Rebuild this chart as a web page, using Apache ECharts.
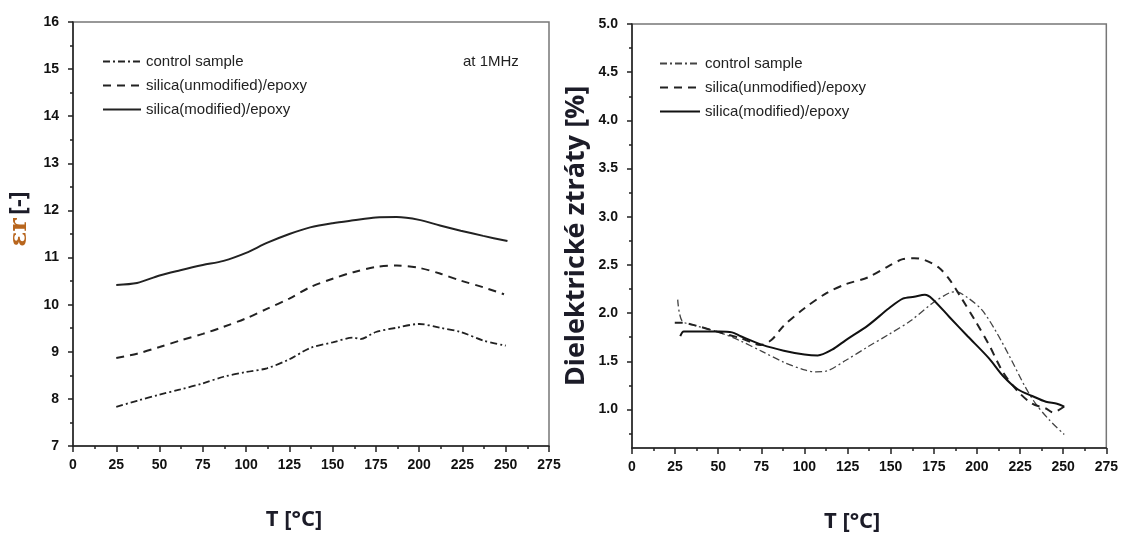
<!DOCTYPE html>
<html>
<head>
<meta charset="utf-8">
<script src="https://cdn.jsdelivr.net/npm/echarts@6/dist/echarts.min.js"></script>
<style>
html,body{margin:0;padding:0;background:#fff;}
#c{width:1121px;height:540px;}
</style>
</head>
<body>
<div id="c"></div>
<script>
// ---------- Data ----------
const seriesNames = ['control sample', 'silica(unmodified)/epoxy', 'silica(modified)/epoxy'];
const xTickLabels = [0, 25, 50, 75, 100, 125, 150, 175, 200, 225, 250, 275];
const rightYTickLabels = [1.0, 1.5, 2.0, 2.5, 3.0, 3.5, 4.0, 4.5, 5.0];
const rightYMinorTicks = [0.75, 1.25, 1.75, 2.25, 2.75, 3.25, 3.75, 4.25, 4.75];

// Left panel: relative permittivity at 1 MHz
const leftControlT = [25, 37, 50, 62, 75, 87, 100, 112, 125, 137, 150, 162, 166, 175, 187, 200, 212, 224, 237, 250];
const leftControlV = [7.83, 7.96, 8.09, 8.20, 8.33, 8.47, 8.57, 8.65, 8.84, 9.08, 9.20, 9.30, 9.27, 9.42, 9.51, 9.59, 9.51, 9.42, 9.24, 9.13];
const leftUnmodT = [25, 37, 50, 62, 75, 87, 100, 112, 125, 137, 150, 162, 175, 187, 200, 212, 224, 237, 249];
const leftUnmodV = [8.87, 8.96, 9.10, 9.24, 9.38, 9.53, 9.71, 9.91, 10.13, 10.37, 10.55, 10.69, 10.80, 10.83, 10.78, 10.66, 10.51, 10.37, 10.22];
const leftModT = [25, 37, 50, 62, 75, 87, 100, 112, 125, 137, 150, 162, 175, 187, 200, 212, 224, 237, 251];
const leftModV = [10.42, 10.46, 10.62, 10.73, 10.84, 10.93, 11.10, 11.31, 11.50, 11.64, 11.73, 11.79, 11.85, 11.86, 11.80, 11.68, 11.57, 11.46, 11.35];

// Right panel: dielectric losses [%]
const rightControlT = [26.5, 29, 37, 50.7, 63, 75.6, 88, 100, 106.6, 113, 124, 136.7, 149, 161.5, 174, 184, 188, 194.6, 203, 211, 219.5, 227.8, 234, 242, 250.6];
const rightControlV = [2.14, 1.92, 1.87, 1.80, 1.71, 1.60, 1.49, 1.41, 1.39, 1.40, 1.51, 1.65, 1.78, 1.92, 2.10, 2.21, 2.22, 2.16, 2.03, 1.81, 1.53, 1.24, 1.06, 0.89, 0.74];
const rightUnmodT = [24.8, 29, 37, 50.7, 63, 74.5, 80.8, 88, 100, 113, 124, 136.7, 149, 157, 163.6, 169.8, 178, 184, 190.5, 199, 207, 215, 223.6, 232, 240, 244, 250.6];
const rightUnmodV = [1.90, 1.90, 1.87, 1.80, 1.74, 1.67, 1.72, 1.87, 2.05, 2.21, 2.30, 2.37, 2.49, 2.56, 2.57, 2.55, 2.47, 2.35, 2.17, 1.92, 1.67, 1.39, 1.19, 1.06, 1.01, 0.97, 1.03];
const rightModT = [28, 30, 37, 50.7, 58, 63, 75.6, 88, 100, 107.7, 116, 124, 136.7, 149, 157, 163.6, 169.8, 174, 184, 194.6, 207, 215, 223.6, 232, 240, 246.4, 250.6];
const rightModV = [1.76, 1.81, 1.81, 1.81, 1.80, 1.76, 1.67, 1.61, 1.57, 1.56, 1.62, 1.72, 1.87, 2.05, 2.15, 2.17, 2.19, 2.15, 1.96, 1.76, 1.53, 1.35, 1.21, 1.14, 1.08, 1.06, 1.03];

// ---------- Chart ----------
const pairs = (xs, ys) => xs.map((x, i) => [x, ys[i]]);
const tickFont = "'Liberation Sans Narrow', 'Liberation Sans', Arial, sans-serif";
const titleFont = "'Open Sans', 'Noto Sans', sans-serif";
const axisCol = '#222';

function xAxisFor(gridIndex) {
  return {
    type: 'value', gridIndex: gridIndex, min: 0, max: 275, interval: 25,
    name: 'T [°C]', nameLocation: 'middle', nameGap: 63,
    nameTextStyle: {
      fontFamily: titleFont, fontWeight: 'bold', fontSize: 22, color: '#1c1c28',
      textShadowColor: '#e8902a', textShadowOffsetX: -1.2, textShadowBlur: 0,
      padding: [0, 34, 0, 0]
    },
    axisLine: { show: true, lineStyle: { color: axisCol, width: 1.5 } },
    axisTick: { show: true, inside: false, length: 6, lineStyle: { color: axisCol, width: 1.5 } },
    minorTick: { show: true, splitNumber: 2, length: 3, lineStyle: { color: axisCol, width: 1.5 } },
    splitLine: { show: false },
    axisLabel: {
      margin: 12, fontFamily: tickFont, fontWeight: 'bold', fontSize: 14, color: '#111',
      customValues: xTickLabels
    }
  };
}

const legendText = { fontFamily: "'Liberation Sans', Arial, sans-serif", fontSize: 15, color: '#222' };

const option = {
  backgroundColor: '#ffffff',
  animation: false,
  grid: [
    { left: 73, top: 22, width: 476, height: 424, show: true, borderColor: '#777', borderWidth: 1.5, containLabel: false },
    { left: 632, top: 24, width: 475, height: 424, show: true, borderColor: '#777', borderWidth: 1.5, containLabel: false }
  ],
  legend: [
    {
      left: 97, top: 49, orient: 'vertical', itemWidth: 38, itemHeight: 14, itemGap: 9,
      data: seriesNames.map(n => ({ name: n })),
      itemStyle: { opacity: 0 },
      textStyle: legendText
    },
    {
      left: 654, top: 51, orient: 'vertical', itemWidth: 40, itemHeight: 14, itemGap: 9,
      data: seriesNames.map(n => ({ name: n + ' ' })),
      itemStyle: { opacity: 0 },
      textStyle: legendText,
      formatter: n => n.trim()
    }
  ],
  xAxis: [xAxisFor(0), xAxisFor(1)],
  yAxis: [
    {
      type: 'value', gridIndex: 0, min: 7, max: 16, interval: 1,
      name: '{e|εr} {b|[-]}', nameLocation: 'middle', nameGap: 41, nameRotate: 90,
      nameTextStyle: {
        padding: [0, 0, 0, 30],
        rich: {
          e: { fontFamily: "'DejaVu Serif', serif", fontWeight: 'bold', fontSize: 25, color: '#b8661e' },
          b: { fontFamily: titleFont, fontWeight: 'bold', fontSize: 24, color: '#1c1c28',
               textShadowColor: '#e8902a', textShadowOffsetX: -1, textShadowBlur: 0 }
        }
      },
      axisLine: { show: true, lineStyle: { color: axisCol, width: 1.5 } },
      axisTick: { show: true, inside: false, length: 5, lineStyle: { color: axisCol, width: 1.5 } },
      minorTick: { show: true, splitNumber: 2, length: 3, lineStyle: { color: axisCol, width: 1.5 } },
      splitLine: { show: false },
      axisLabel: { margin: 14, fontFamily: tickFont, fontWeight: 'bold', fontSize: 14, color: '#111' }
    },
    {
      type: 'value', gridIndex: 1, min: 0.6, max: 5.0, position: 'left',
      name: 'Dielektrické ztráty [%]', nameLocation: 'middle', nameGap: 42, nameRotate: 90,
      nameTextStyle: {
        fontFamily: titleFont, fontWeight: 'bold', fontSize: 27, color: '#1c1c28',
        textShadowColor: '#e8902a', textShadowOffsetX: -1.2, textShadowBlur: 0
      },
      axisLine: { show: true, lineStyle: { color: axisCol, width: 1.5 } },
      axisTick: { show: true, inside: false, length: 5, customValues: rightYTickLabels, lineStyle: { color: axisCol, width: 1.5 } },
      splitLine: { show: false },
      axisLabel: {
        margin: 14, fontFamily: tickFont, fontWeight: 'bold', fontSize: 14, color: '#111',
        customValues: rightYTickLabels, formatter: v => v.toFixed(1)
      }
    },
    {
      type: 'value', gridIndex: 1, min: 0.6, max: 5.0, position: 'left', offset: 0,
      axisLine: { show: false },
      axisTick: { show: true, inside: false, length: 3, customValues: rightYMinorTicks, lineStyle: { color: axisCol, width: 1.5 } },
      splitLine: { show: false },
      axisLabel: { show: false, customValues: rightYMinorTicks }
    }
  ],
  graphic: [
    {
      type: 'text', left: 463, top: 54,
      style: { text: 'at 1MHz', fontFamily: "'Liberation Sans', Arial, sans-serif", fontSize: 15, fill: '#222' }
    }
  ],
  series: [
    {
      name: seriesNames[0], type: 'line', xAxisIndex: 0, yAxisIndex: 0, symbol: 'none', smooth: 0.3,
      data: pairs(leftControlT, leftControlV),
      lineStyle: { color: '#222', width: 1.8, type: [7, 3, 2, 3] }, itemStyle: { color: '#222' }
    },
    {
      name: seriesNames[1], type: 'line', xAxisIndex: 0, yAxisIndex: 0, symbol: 'none', smooth: 0.3,
      data: pairs(leftUnmodT, leftUnmodV),
      lineStyle: { color: '#222', width: 2, type: [8, 6] }, itemStyle: { color: '#222' }
    },
    {
      name: seriesNames[2], type: 'line', xAxisIndex: 0, yAxisIndex: 0, symbol: 'none', smooth: 0.3,
      data: pairs(leftModT, leftModV),
      lineStyle: { color: '#222', width: 2 }, itemStyle: { color: '#222' }
    },
    {
      name: seriesNames[0] + ' ', type: 'line', xAxisIndex: 1, yAxisIndex: 1, symbol: 'none', smooth: 0.3,
      data: pairs(rightControlT, rightControlV),
      lineStyle: { color: '#444', width: 1.3, type: [7, 3, 2, 3] }, itemStyle: { color: '#444' }
    },
    {
      name: seriesNames[1] + ' ', type: 'line', xAxisIndex: 1, yAxisIndex: 1, symbol: 'none', smooth: 0.3,
      data: pairs(rightUnmodT, rightUnmodV),
      lineStyle: { color: '#222', width: 2, type: [8, 6] }, itemStyle: { color: '#222' }
    },
    {
      name: seriesNames[2] + ' ', type: 'line', xAxisIndex: 1, yAxisIndex: 1, symbol: 'none', smooth: 0.3,
      data: pairs(rightModT, rightModV),
      lineStyle: { color: '#111', width: 2 }, itemStyle: { color: '#111' }
    }
  ]
};

const chart = echarts.init(document.getElementById('c'), null, { renderer: 'canvas' });
chart.setOption(option);
</script>
</body>
</html>
